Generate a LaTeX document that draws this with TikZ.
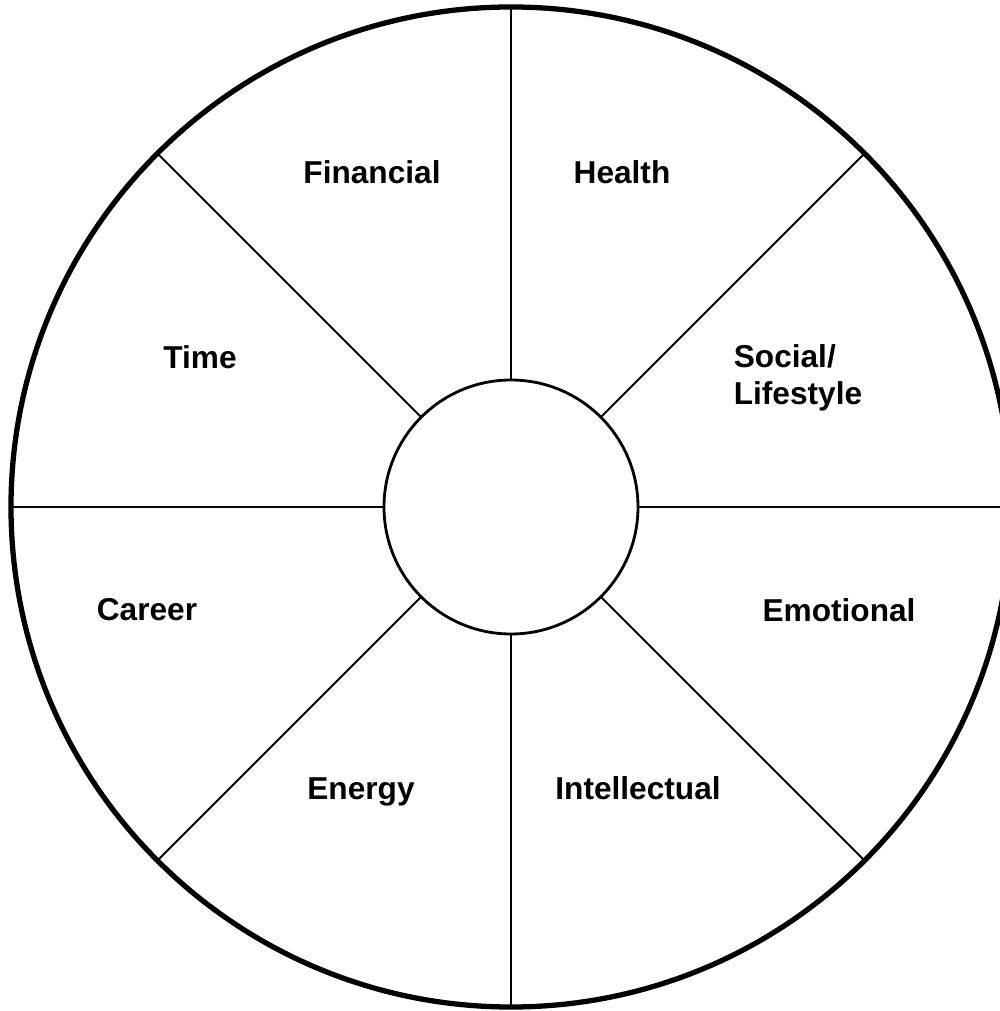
\documentclass[tikz,border=0pt]{standalone}
\usepackage{fontspec}
\setsansfont{Liberation Sans}
\tikzset{
  rim/.style={circle, draw, line width=1.5pt, minimum size=10cm, inner sep=0pt, outer sep=0pt},
  hub/.style={circle, draw, line width=0.8pt, minimum size=2.54cm, inner sep=0pt, outer sep=0pt},
  spoke/.style={line width=0.6pt},
  area/.style={font=\sffamily\bfseries\fontsize{9}{10.6}\selectfont, align=left},
}
\begin{document}
\begin{tikzpicture}
\useasboundingbox (-5.11,-5.04) rectangle (4.89,5.07);
\node[rim] (wheel) at (0,0) {};
\node[hub] (core) at (0,0) {};
\foreach \a in {0,45,...,315} {\draw[spoke] (core.\a) -- (wheel.\a);}
\node[area] (fin) at (-1.39,3.35) {Financial};
\node[area] (hea) at (1.11,3.35) {Health};
\node[area] (tim) at (-3.11,1.50) {Time};
\node[area] (soc) at (2.87,1.29) {Social/\\Lifestyle};
\node[area] (car) at (-3.64,-1.03) {Career};
\node[area] (emo) at (3.28,-1.03) {Emotional};
\node[area] (ene) at (-1.50,-2.85) {Energy};
\node[area] (int) at (1.27,-2.81) {Intellectual};
\end{tikzpicture}
\end{document}
